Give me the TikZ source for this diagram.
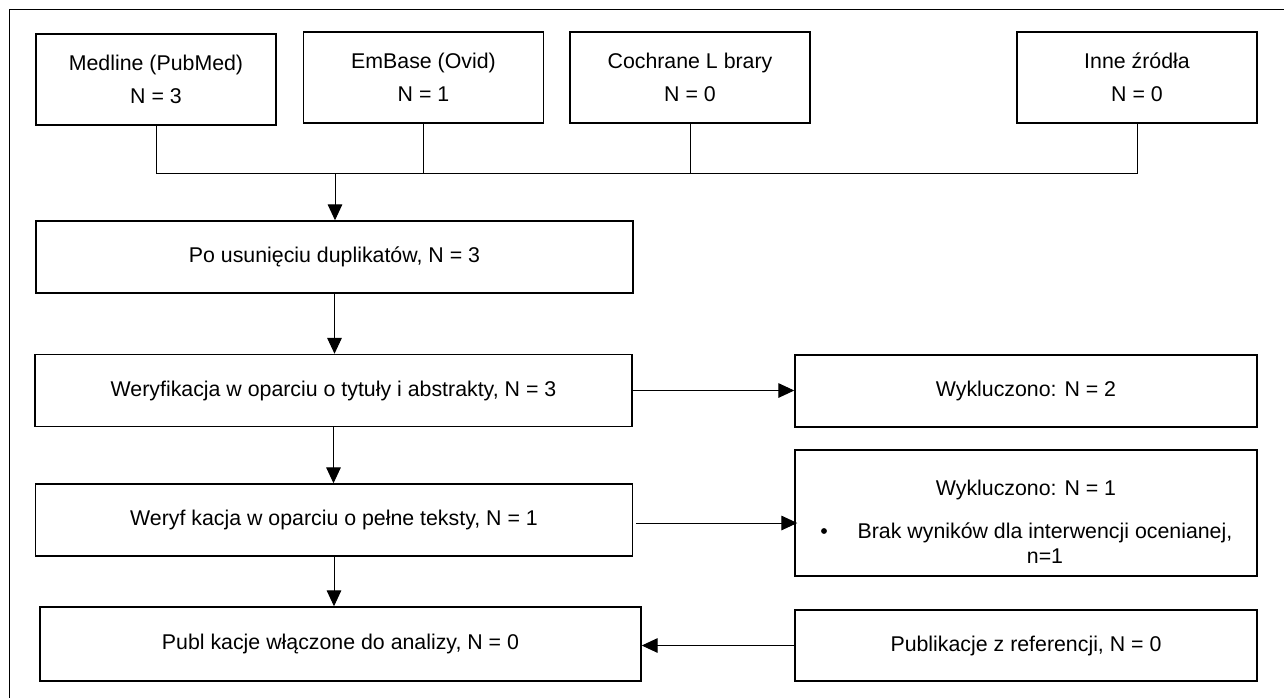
\documentclass[tikz,border=0pt]{standalone}
\usepackage{fontspec}
\setmainfont{Liberation Sans}
\usetikzlibrary{arrows.meta}

\tikzset{
  box/.style={draw, line width=1.1pt, inner sep=0pt, align=center,
    font=\fontsize{16}{19.2}\selectfont},
  srcbox/.style={box, minimum width=180pt, minimum height=68.25pt},
  mainbox/.style={box, minimum width=447.75pt, minimum height=54pt},
  sidebox/.style={box, minimum width=346.5pt, minimum height=54pt},
  label/.style={inner sep=0pt, align=center, font=\fontsize{16}{19.2}\selectfont},
  conn/.style={line width=0.75pt},
  arr/.style={conn, -{Triangle[length=12pt,width=11pt]}},
}

\begin{document}
\begin{tikzpicture}[x=0.75pt,y=-0.75pt]
    \useasboundingbox (0,0) rectangle (1284,697);
    \clip (0,0) rectangle (1284,697);

    % Ramka
    \draw[line width=0.6pt] (9,9) rectangle (1300,720);

    % Bazy danych
    \node[srcbox] (med)  at (156,79.5)  {Medline (PubMed)\\[5.5pt]N = 3};
    \node[srcbox] (emb)  at (423.5,77.5) {EmBase (Ovid)\\[5.5pt]N = 1};
    \node[srcbox] (coch) at (690,77.5)  {Cochrane L brary\\[5.5pt]N = 0};
    \node[srcbox] (inne) at (1137,77.5) {Inne źródła\\[5.5pt]N = 0};

    % Kolejne etapy
    \node[mainbox] (dup)   at (334.5,257)   {Po usunięciu duplikatów, N = 3};
    \node[mainbox] (tytul) at (333.5,390.5) {Weryfikacja w oparciu o tytuły i abstrakty, N = 3};
    \node[mainbox] (pelne) at (334,520)     {Weryf kacja w oparciu o pełne teksty, N = 1};
    \node[box, minimum width=450.75pt, minimum height=55.5pt] (publ) at (340.5,644)
        {Publ kacje włączone do analizy, N = 0};

    % Wykluczone
    \node[sidebox] (wyk2) at (1026,391) {Wykluczono: N = 2};
    \node[sidebox, minimum height=94.5pt] (wyk1) at (1026,513) {};
    \node[label] (wyk1t) at (1026,490) {Wykluczono: N = 1};
    \node[label] (brak) at (1045,543) {Brak wyników dla interwencji ocenianej,\\n=1};
    \fill (824,531) circle (2.2pt);
    \node[sidebox, minimum height=53.25pt] (ref) at (1026,645.5) {Publikacje z referencji, N = 0};

    % Polaczenia
    \coordinate (jn) at (335,173);
    \draw[conn] (med.south) |- (jn -| inne.south) -- (inne.south);
    \draw[conn] (emb.south) -- (emb.south |- jn);
    \draw[conn] (coch.south) -- (coch.south |- jn);
    \draw[arr] (jn) -- (jn |- dup.north);
    \draw[arr] (dup.south) -- (dup.south |- tytul.north);
    \draw[arr] (tytul.south) -- (tytul.south |- pelne.north);
    \draw[arr] (pelne.south) -- (pelne.south |- publ.north);
    \draw[arr] (tytul.east) -- (tytul.east -| wyk2.west);
    \draw[arr] ([shift={(3,3)}]pelne.east) -- ([shift={(3,3)}]pelne.east -| wyk1.west);
    \draw[arr] (ref.west) -- (ref.west -| publ.east);
\end{tikzpicture}
\end{document}
